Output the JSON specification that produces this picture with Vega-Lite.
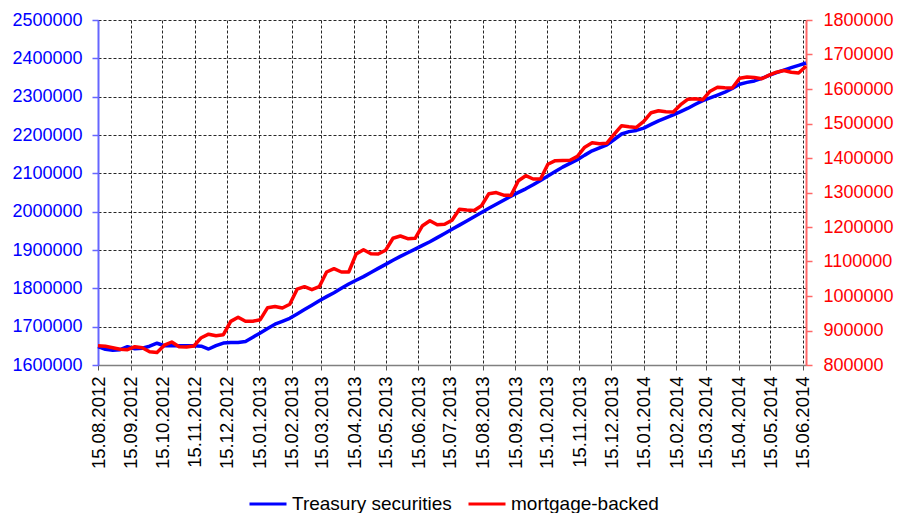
{
  "$schema": "https://vega.github.io/schema/vega-lite/v6.json",
  "width": 708,
  "height": 345,
  "autosize": {"type": "none"},
  "padding": {"left": 98, "top": 20, "right": 94, "bottom": 148},
  "background": "white",
  "config": {
    "font": "Liberation Sans",
    "view": {"stroke": null}
  },
  "data": {
    "values": [
      {"date": "2012-08-15", "treasury": 1648000, "mbs": 855900},
      {"date": "2012-08-22", "treasury": 1641000, "mbs": 854500},
      {"date": "2012-08-29", "treasury": 1638500, "mbs": 850100},
      {"date": "2012-09-05", "treasury": 1639800, "mbs": 845800},
      {"date": "2012-09-12", "treasury": 1647700, "mbs": 844300},
      {"date": "2012-09-19", "treasury": 1642500, "mbs": 853000},
      {"date": "2012-09-26", "treasury": 1643800, "mbs": 850100},
      {"date": "2012-10-03", "treasury": 1649000, "mbs": 838500},
      {"date": "2012-10-10", "treasury": 1656800, "mbs": 836500},
      {"date": "2012-10-17", "treasury": 1650300, "mbs": 857400},
      {"date": "2012-10-24", "treasury": 1650300, "mbs": 866700},
      {"date": "2012-10-31", "treasury": 1650300, "mbs": 853000},
      {"date": "2012-11-07", "treasury": 1650300, "mbs": 852200},
      {"date": "2012-11-14", "treasury": 1650300, "mbs": 855100},
      {"date": "2012-11-21", "treasury": 1649000, "mbs": 879100},
      {"date": "2012-11-28", "treasury": 1641700, "mbs": 889300},
      {"date": "2012-12-05", "treasury": 1650300, "mbs": 884900},
      {"date": "2012-12-12", "treasury": 1657300, "mbs": 887800},
      {"date": "2012-12-19", "treasury": 1658900, "mbs": 926400},
      {"date": "2012-12-26", "treasury": 1658900, "mbs": 938500},
      {"date": "2013-01-02", "treasury": 1661500, "mbs": 926900},
      {"date": "2013-01-09", "treasury": 1672500, "mbs": 926900},
      {"date": "2013-01-16", "treasury": 1683700, "mbs": 931300},
      {"date": "2013-01-23", "treasury": 1695400, "mbs": 966100},
      {"date": "2013-01-30", "treasury": 1706400, "mbs": 969800},
      {"date": "2013-02-06", "treasury": 1713900, "mbs": 965200},
      {"date": "2013-02-13", "treasury": 1721800, "mbs": 976200},
      {"date": "2013-02-20", "treasury": 1733000, "mbs": 1019700},
      {"date": "2013-02-27", "treasury": 1744500, "mbs": 1027000},
      {"date": "2013-03-06", "treasury": 1755900, "mbs": 1018300},
      {"date": "2013-03-13", "treasury": 1767700, "mbs": 1027000},
      {"date": "2013-03-20", "treasury": 1778400, "mbs": 1069600},
      {"date": "2013-03-27", "treasury": 1788600, "mbs": 1079100},
      {"date": "2013-04-03", "treasury": 1800000, "mbs": 1069600},
      {"date": "2013-04-10", "treasury": 1811200, "mbs": 1069600},
      {"date": "2013-04-17", "treasury": 1821200, "mbs": 1121700},
      {"date": "2013-04-24", "treasury": 1830600, "mbs": 1134200},
      {"date": "2013-05-01", "treasury": 1841300, "mbs": 1122600},
      {"date": "2013-05-08", "treasury": 1852000, "mbs": 1121700},
      {"date": "2013-05-15", "treasury": 1862400, "mbs": 1132700},
      {"date": "2013-05-22", "treasury": 1873100, "mbs": 1167500},
      {"date": "2013-05-29", "treasury": 1883300, "mbs": 1173900},
      {"date": "2013-06-05", "treasury": 1892900, "mbs": 1166100},
      {"date": "2013-06-12", "treasury": 1902300, "mbs": 1167200},
      {"date": "2013-06-19", "treasury": 1912000, "mbs": 1203800},
      {"date": "2013-06-26", "treasury": 1921600, "mbs": 1218300},
      {"date": "2013-07-03", "treasury": 1932300, "mbs": 1206700},
      {"date": "2013-07-10", "treasury": 1943000, "mbs": 1208100},
      {"date": "2013-07-17", "treasury": 1954000, "mbs": 1219700},
      {"date": "2013-07-24", "treasury": 1964900, "mbs": 1251600},
      {"date": "2013-07-31", "treasury": 1975900, "mbs": 1249300},
      {"date": "2013-08-07", "treasury": 1986800, "mbs": 1247800},
      {"date": "2013-08-14", "treasury": 1998000, "mbs": 1261700},
      {"date": "2013-08-21", "treasury": 2008700, "mbs": 1296500},
      {"date": "2013-08-28", "treasury": 2019200, "mbs": 1299700},
      {"date": "2013-09-04", "treasury": 2029900, "mbs": 1292200},
      {"date": "2013-09-11", "treasury": 2040300, "mbs": 1291600},
      {"date": "2013-09-18", "treasury": 2050200, "mbs": 1334200},
      {"date": "2013-09-25", "treasury": 2059600, "mbs": 1348700},
      {"date": "2013-10-02", "treasury": 2070100, "mbs": 1339100},
      {"date": "2013-10-09", "treasury": 2081500, "mbs": 1339100},
      {"date": "2013-10-16", "treasury": 2093000, "mbs": 1382000},
      {"date": "2013-10-23", "treasury": 2104500, "mbs": 1392200},
      {"date": "2013-10-30", "treasury": 2116200, "mbs": 1393000},
      {"date": "2013-11-06", "treasury": 2126100, "mbs": 1393600},
      {"date": "2013-11-13", "treasury": 2135500, "mbs": 1404600},
      {"date": "2013-11-20", "treasury": 2147500, "mbs": 1431300},
      {"date": "2013-11-27", "treasury": 2158800, "mbs": 1444300},
      {"date": "2013-12-04", "treasury": 2166600, "mbs": 1441400},
      {"date": "2013-12-11", "treasury": 2174400, "mbs": 1442900},
      {"date": "2013-12-18", "treasury": 2188200, "mbs": 1469000},
      {"date": "2013-12-25", "treasury": 2202600, "mbs": 1493600},
      {"date": "2014-01-01", "treasury": 2208800, "mbs": 1490700},
      {"date": "2014-01-08", "treasury": 2212000, "mbs": 1488700},
      {"date": "2014-01-15", "treasury": 2218000, "mbs": 1506100},
      {"date": "2014-01-22", "treasury": 2227600, "mbs": 1531300},
      {"date": "2014-01-29", "treasury": 2236800, "mbs": 1537100},
      {"date": "2014-02-05", "treasury": 2244600, "mbs": 1534200},
      {"date": "2014-02-12", "treasury": 2252400, "mbs": 1533300},
      {"date": "2014-02-19", "treasury": 2261000, "mbs": 1554500},
      {"date": "2014-02-26", "treasury": 2269900, "mbs": 1570400},
      {"date": "2014-03-05", "treasury": 2280100, "mbs": 1571900},
      {"date": "2014-03-12", "treasury": 2289700, "mbs": 1569000},
      {"date": "2014-03-19", "treasury": 2297000, "mbs": 1593600},
      {"date": "2014-03-26", "treasury": 2304300, "mbs": 1605200},
      {"date": "2014-04-02", "treasury": 2311600, "mbs": 1603800},
      {"date": "2014-04-09", "treasury": 2321300, "mbs": 1602900},
      {"date": "2014-04-16", "treasury": 2332500, "mbs": 1631300},
      {"date": "2014-04-23", "treasury": 2337200, "mbs": 1634800},
      {"date": "2014-04-30", "treasury": 2341100, "mbs": 1633300},
      {"date": "2014-05-07", "treasury": 2347600, "mbs": 1629900},
      {"date": "2014-05-14", "treasury": 2355700, "mbs": 1640000},
      {"date": "2014-05-21", "treasury": 2362500, "mbs": 1648700},
      {"date": "2014-05-28", "treasury": 2369300, "mbs": 1653600},
      {"date": "2014-06-04", "treasury": 2375600, "mbs": 1648700},
      {"date": "2014-06-11", "treasury": 2381600, "mbs": 1646400},
      {"date": "2014-06-18", "treasury": 2387800, "mbs": 1666100}
    ]
  },
  "encoding": {
    "x": {
      "field": "date",
      "type": "temporal",
      "scale": {
        "type": "utc",
        "domain": [
          {"year": 2012, "month": 8, "date": 15, "utc": true},
          {"year": 2014, "month": 6, "date": 18, "utc": true}
        ]
      },
      "axis": {
        "title": null,
        "values": [
          {"year": 2012, "month": 8, "date": 15, "utc": true},
          {"year": 2012, "month": 9, "date": 15, "utc": true},
          {"year": 2012, "month": 10, "date": 15, "utc": true},
          {"year": 2012, "month": 11, "date": 15, "utc": true},
          {"year": 2012, "month": 12, "date": 15, "utc": true},
          {"year": 2013, "month": 1, "date": 15, "utc": true},
          {"year": 2013, "month": 2, "date": 15, "utc": true},
          {"year": 2013, "month": 3, "date": 15, "utc": true},
          {"year": 2013, "month": 4, "date": 15, "utc": true},
          {"year": 2013, "month": 5, "date": 15, "utc": true},
          {"year": 2013, "month": 6, "date": 15, "utc": true},
          {"year": 2013, "month": 7, "date": 15, "utc": true},
          {"year": 2013, "month": 8, "date": 15, "utc": true},
          {"year": 2013, "month": 9, "date": 15, "utc": true},
          {"year": 2013, "month": 10, "date": 15, "utc": true},
          {"year": 2013, "month": 11, "date": 15, "utc": true},
          {"year": 2013, "month": 12, "date": 15, "utc": true},
          {"year": 2014, "month": 1, "date": 15, "utc": true},
          {"year": 2014, "month": 2, "date": 15, "utc": true},
          {"year": 2014, "month": 3, "date": 15, "utc": true},
          {"year": 2014, "month": 4, "date": 15, "utc": true},
          {"year": 2014, "month": 5, "date": 15, "utc": true},
          {"year": 2014, "month": 6, "date": 15, "utc": true}
        ],
        "labelExpr": "utcFormat(datum.value, '%d.%m.%Y')",
        "labelAngle": -90,
        "labelAlign": "right",
        "labelBaseline": "middle",
        "labelFontSize": 18.5,
        "labelColor": "#000000",
        "labelPadding": 6,
        "labelOverlap": false,
        "labelFlush": false,
        "labelBound": false,
        "grid": true,
        "gridColor": "#000000",
        "gridDash": [3, 2],
        "gridWidth": 1,
        "gridOpacity": 0.85,
        "domainColor": "#808080",
        "domainWidth": 1.5,
        "tickColor": "#555555",
        "tickSize": 5,
        "zindex": 0
      }
    }
  },
  "layer": [
    {
      "mark": {"type": "line", "strokeWidth": 3.5, "strokeJoin": "round"},
      "encoding": {
        "y": {
          "field": "treasury",
          "type": "quantitative",
          "scale": {"domain": [1600000, 2500000], "nice": false, "zero": false},
          "axis": {
            "title": null,
            "orient": "left",
            "values": [1600000, 1700000, 1800000, 1900000, 2000000, 2100000, 2200000, 2300000, 2400000, 2500000],
            "format": "d",
            "labelFontSize": 18,
            "labelColor": "#0000ff",
            "labelPadding": 10,
            "grid": true,
            "gridColor": "#000000",
            "gridDash": [3, 2],
            "gridWidth": 1,
            "gridOpacity": 0.85,
            "domainColor": "#6666ff",
            "domainWidth": 2,
            "tickColor": "#6666ff",
            "tickWidth": 1.5,
            "tickSize": 6
          }
        },
        "color": {
          "datum": "Treasury securities",
          "type": "nominal",
          "scale": {"domain": ["Treasury securities", "mortgage-backed"], "range": ["#0000ff", "#ff0000"]},
          "legend": {
            "title": null,
            "orient": "none",
            "legendX": 150,
            "legendY": 464,
            "direction": "horizontal",
            "symbolType": "stroke",
            "symbolSize": 1369,
            "symbolStrokeWidth": 3,
            "labelFontSize": 19,
            "labelColor": "#000000",
            "labelOffset": 4,
            "columnPadding": 10,
            "padding": 0
          }
        }
      }
    },
    {
      "mark": {"type": "line", "strokeWidth": 3.5, "strokeJoin": "round"},
      "encoding": {
        "y": {
          "field": "mbs",
          "type": "quantitative",
          "scale": {"domain": [800000, 1800000], "nice": false, "zero": false},
          "axis": {
            "title": null,
            "orient": "right",
            "values": [800000, 900000, 1000000, 1100000, 1200000, 1300000, 1400000, 1500000, 1600000, 1700000, 1800000],
            "format": "d",
            "labelFontSize": 18,
            "labelColor": "#ff0000",
            "labelPadding": 11,
            "grid": false,
            "domainColor": "#ff6666",
            "domainWidth": 2,
            "tickColor": "#ff6666",
            "tickWidth": 1.5,
            "tickSize": 6
          }
        },
        "color": {"datum": "mortgage-backed", "type": "nominal"}
      }
    }
  ],
  "resolve": {"scale": {"y": "independent"}}
}
